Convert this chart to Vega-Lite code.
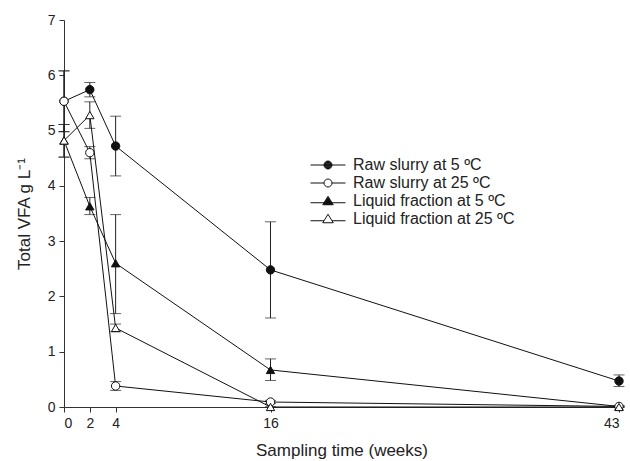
{
  "$schema": "https://vega.github.io/schema/vega-lite/v6.json",
  "autosize": {"type": "none"},
  "padding": {"left": 64, "top": 20, "right": 11, "bottom": 54},
  "width": 555,
  "height": 387,
  "background": "white",
  "config": {
    "view": {"stroke": null},
    "font": "Liberation Sans",
    "axis": {
      "domainColor": "#333333",
      "tickColor": "#333333",
      "labelColor": "#222222",
      "titleColor": "#222222",
      "labelFont": "Liberation Sans",
      "titleFont": "Liberation Sans",
      "labelFontSize": 14,
      "titleFontSize": 17,
      "titleFontWeight": "normal",
      "grid": false,
      "tickSize": 5,
      "labelPadding": 4
    },
    "legend": {
      "labelFont": "Liberation Sans",
      "labelFontSize": 16,
      "labelColor": "#222222",
      "labelLimit": 400,
      "padding": 0
    }
  },
  "data": {
    "values": [
      {"series": "Raw slurry at 5 ºC", "week": 0, "v": 5.53, "lo": 4.98, "hi": 6.08},
      {"series": "Raw slurry at 5 ºC", "week": 2, "v": 5.74, "lo": 5.61, "hi": 5.87},
      {"series": "Raw slurry at 5 ºC", "week": 4, "v": 4.72, "lo": 4.18, "hi": 5.26},
      {"series": "Raw slurry at 5 ºC", "week": 16, "v": 2.48, "lo": 1.61, "hi": 3.35},
      {"series": "Raw slurry at 5 ºC", "week": 43, "v": 0.47, "lo": 0.37, "hi": 0.58},
      {"series": "Liquid fraction at 5 ºC", "week": 0, "v": 4.82, "lo": 4.52, "hi": 5.11},
      {"series": "Liquid fraction at 5 ºC", "week": 2, "v": 3.63, "lo": 3.48, "hi": 3.79},
      {"series": "Liquid fraction at 5 ºC", "week": 4, "v": 2.6, "lo": 1.69, "hi": 3.48},
      {"series": "Liquid fraction at 5 ºC", "week": 16, "v": 0.67, "lo": 0.48, "hi": 0.87},
      {"series": "Liquid fraction at 5 ºC", "week": 43, "v": 0.01, "lo": 0.0, "hi": 0.02},
      {"series": "Raw slurry at 25 ºC", "week": 0, "v": 5.53, "lo": 4.98, "hi": 6.08},
      {"series": "Raw slurry at 25 ºC", "week": 2, "v": 4.6, "lo": 4.49, "hi": 4.71},
      {"series": "Raw slurry at 25 ºC", "week": 4, "v": 0.38, "lo": 0.3, "hi": 0.46},
      {"series": "Raw slurry at 25 ºC", "week": 16, "v": 0.09, "lo": 0.06, "hi": 0.12},
      {"series": "Raw slurry at 25 ºC", "week": 43, "v": 0.01, "lo": 0.0, "hi": 0.02},
      {"series": "Liquid fraction at 25 ºC", "week": 0, "v": 4.82, "lo": 4.52, "hi": 5.11},
      {"series": "Liquid fraction at 25 ºC", "week": 2, "v": 5.28, "lo": 5.04, "hi": 5.52},
      {"series": "Liquid fraction at 25 ºC", "week": 4, "v": 1.43, "lo": 1.36, "hi": 1.5},
      {"series": "Liquid fraction at 25 ºC", "week": 16, "v": 0.0, "lo": 0.0, "hi": 0.0},
      {"series": "Liquid fraction at 25 ºC", "week": 43, "v": 0.0, "lo": 0.0, "hi": 0.0}
    ]
  },
  "encoding": {
    "x": {
      "field": "week",
      "type": "quantitative",
      "scale": {"domain": [0, 43], "nice": false, "zero": false},
      "axis": {"values": [0, 2, 4, 16, 43], "format": "d", "title": "Sampling time (weeks)", "titlePadding": 12}
    },
    "y": {
      "field": "v",
      "type": "quantitative",
      "scale": {"domain": [0, 7], "nice": false},
      "axis": {"values": [0, 1, 2, 3, 4, 5, 6, 7], "format": "d", "title": "Total VFA g L⁻¹", "titlePadding": 14}
    }
  },
  "resolve": {"scale": {"shape": "independent"}, "legend": {"shape": "independent"}},
  "layer": [
    {
      "mark": {"type": "rule", "color": "#222222", "strokeWidth": 1},
      "encoding": {
        "y": {"field": "lo", "type": "quantitative"},
        "y2": {"field": "hi"}
      }
    },
    {
      "mark": {"type": "tick", "orient": "horizontal", "color": "#222222", "size": 11, "thickness": 1},
      "encoding": {"y": {"field": "lo", "type": "quantitative"}}
    },
    {
      "mark": {"type": "tick", "orient": "horizontal", "color": "#222222", "size": 11, "thickness": 1},
      "encoding": {"y": {"field": "hi", "type": "quantitative"}}
    },
    {
      "mark": {"type": "line", "color": "#111111", "strokeWidth": 1},
      "encoding": {
        "detail": {"field": "series", "type": "nominal"}
      }
    },
    {
      "mark": {"type": "point", "filled": false, "stroke": "#111111", "strokeWidth": 1, "size": 70, "opacity": 1, "clip": false},
      "encoding": {
        "shape": {
          "field": "series",
          "type": "nominal",
          "scale": {
            "domain": ["Raw slurry at 5 ºC", "Raw slurry at 25 ºC", "Liquid fraction at 5 ºC", "Liquid fraction at 25 ºC"],
            "range": ["circle", "circle", "triangle-up", "triangle-up"]
          },
          "legend": null
        },
        "fill": {
          "field": "series",
          "type": "nominal",
          "scale": {
            "domain": ["Raw slurry at 5 ºC", "Raw slurry at 25 ºC", "Liquid fraction at 5 ºC", "Liquid fraction at 25 ºC"],
            "range": ["#111111", "#ffffff", "#111111", "#ffffff"]
          },
          "legend": null
        }
      }
    },
    {
      "mark": {"type": "point", "filled": false, "stroke": "#111111", "strokeWidth": 1, "size": 100, "opacity": 0},
      "encoding": {
        "shape": {
          "field": "series",
          "type": "nominal",
          "scale": {
            "domain": ["Raw slurry at 5 ºC", "Raw slurry at 25 ºC", "Liquid fraction at 5 ºC", "Liquid fraction at 25 ºC"],
            "range": [
              "M-3.5,0H3.5M-0.8,0A0.8,0.8 0 1,1 0.8,0A0.8,0.8 0 1,1 -0.8,0ZM-0.7,0A0.7,0.7 0 1,1 0.7,0A0.7,0.7 0 1,1 -0.7,0ZM-0.6,0A0.6,0.6 0 1,1 0.6,0A0.6,0.6 0 1,1 -0.6,0ZM-0.5,0A0.5,0.5 0 1,1 0.5,0A0.5,0.5 0 1,1 -0.5,0ZM-0.4,0A0.4,0.4 0 1,1 0.4,0A0.4,0.4 0 1,1 -0.4,0ZM-0.3,0A0.3,0.3 0 1,1 0.3,0A0.3,0.3 0 1,1 -0.3,0ZM-0.2,0A0.2,0.2 0 1,1 0.2,0A0.2,0.2 0 1,1 -0.2,0ZM-0.1,0A0.1,0.1 0 1,1 0.1,0A0.1,0.1 0 1,1 -0.1,0Z",
              "M-3.5,0H-0.8M0.8,0H3.5M-0.8,0A0.8,0.8 0 1,1 0.8,0A0.8,0.8 0 1,1 -0.8,0Z",
              "M-3.5,0.35H3.5M0,-0.95L1.05,0.75L-1.05,0.75ZM0,-0.723L0.84,0.637L-0.84,0.637ZM0,-0.61L0.735,0.58L-0.735,0.58ZM0,-0.497L0.63,0.523L-0.63,0.523ZM0,-0.383L0.525,0.466L-0.525,0.466ZM0,-0.27L0.42,0.41L-0.42,0.41ZM0,-0.157L0.315,0.353L-0.315,0.353ZM0,-0.044L0.21,0.296L-0.21,0.296ZM0,0.07L0.105,0.24L-0.105,0.24Z",
              "M-3.5,0.35H-0.8M0.8,0.35H3.5M0,-0.95L1.05,0.75L-1.05,0.75Z"
            ]
          },
          "legend": {
            "orient": "none",
            "legendX": 256,
            "legendY": 137,
            "title": null,
            "padding": 0,
            "rowPadding": 2,
            "labelOffset": 17,
            "labelLimit": 400,
            "symbolSize": 100,
            "symbolStrokeWidth": 1,
            "symbolOpacity": 1,
            "encode": {
              "symbols": {
                "stroke": {"value": "#111111"},
                "strokeWidth": {"value": 1},
                "opacity": {"value": 1}
              }
            }
          }
        }
      }
    }
  ]
}
